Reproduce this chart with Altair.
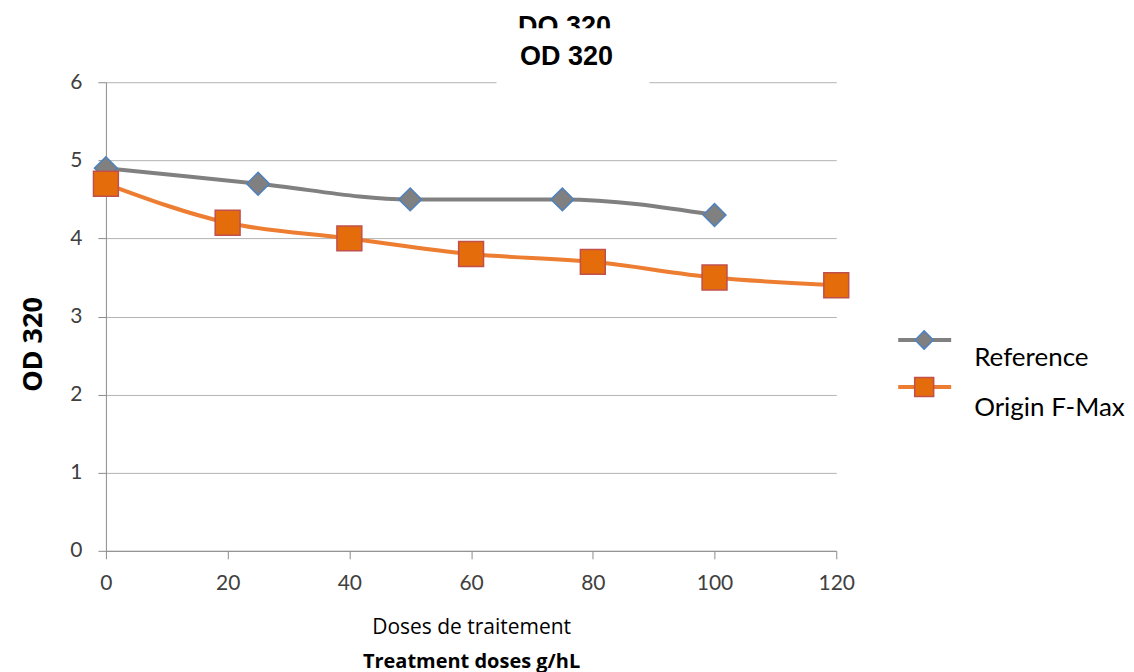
import altair as alt
import pandas as pd

series_names = ["Reference", "Origin F-Max"]
ref_x = [0, 25, 50, 75, 100]
ref_y = [4.9, 4.7, 4.5, 4.5, 4.3]
ofm_x = [0, 20, 40, 60, 80, 100, 120]
ofm_y = [4.7, 4.2, 4.0, 3.8, 3.7, 3.5, 3.4]
x_ticks = [0, 20, 40, 60, 80, 100, 120]
y_ticks = [0, 1, 2, 3, 4, 5, 6]

ref_df = pd.DataFrame({"dose": ref_x, "od": ref_y, "series": series_names[0]})
ofm_df = pd.DataFrame({"dose": ofm_x, "od": ofm_y, "series": series_names[1]})

W, H = 731, 469
FONT = "Lato"
GREY = "#808080"
ORANGE = "#ED7D31"

xs = alt.Scale(domain=[0, 120], nice=False)
ys = alt.Scale(domain=[0, 6], nice=False)

x_axis = alt.Axis(values=x_ticks, grid=False, tickSize=8, labelPadding=14,
                  labelFontSize=21, labelColor="#404040", labelFont=FONT,
                  labelFlush=False, domainColor="#8c8c8c", tickColor="#8c8c8c",
                  title=None)
y_axis = alt.Axis(values=y_ticks, grid=True, gridColor="#b3b3b3", tickSize=8,
                  labelPadding=16, labelFontSize=21, labelColor="#404040",
                  labelFont=FONT, labelFlush=False, domainColor="#8c8c8c",
                  tickColor="#8c8c8c",
                  title="OD 320", titleFontSize=27, titleFont="Open Sans",
                  titleFontWeight="bold", titleColor="black", titlePadding=22,
                  titleY=262, titleAlign="center", titleBaseline="bottom")

def lines(df, color, shape, fill, stroke, size):
    enc_x = alt.X("dose:Q", scale=xs, axis=x_axis)
    enc_y = alt.Y("od:Q", scale=ys, axis=y_axis)
    ln = alt.Chart(df).mark_line(color=color, strokeWidth=4, interpolate="monotone").encode(x=enc_x, y=enc_y)
    pt = alt.Chart(df).mark_point(shape=shape, filled=True, fill=fill, stroke=stroke,
                                  strokeWidth=1.5, size=size, opacity=1).encode(x=enc_x, y=enc_y)
    return ln, pt

ref_l, ref_p = lines(ref_df, GREY, "diamond", GREY, "#4F81BD", 520)
ofm_l, ofm_p = lines(ofm_df, ORANGE, "square", "#E46C0A", "#C0504D", 620)

one = alt.Data(values=[{"a": 1}])

def txt(s, x, y, size, weight="normal", font=FONT, align="center"):
    return alt.Chart(one).mark_text(text=s, fontSize=size, fontWeight=weight, font=font,
                                    align=align, baseline="middle", color="black").encode(
        x=alt.value(x), y=alt.value(y))

def wrect(x, x2, y, y2):
    return alt.Chart(one).mark_rect(color="white").encode(
        x=alt.value(x), x2=alt.value(x2), y=alt.value(y), y2=alt.value(y2))

deco = [
    txt("DO 320", 459, -55, 27, "bold", "Liberation Sans"),
    wrect(391, 544, -54, 2),
    txt("OD 320", 461, -25, 27, "bold", "Liberation Sans"),
    txt("Doses de traitement", 366, 546, 21, "normal", "Open Sans"),
    wrect(240, 500, 554, 600),
    txt("Treatment doses g/hL", 366, 580, 20, "bold", "Open Sans"),
]

# legend
leg = []
for name, color, shape, fill, stroke, size, yl, yt in [
    (series_names[0], GREY, "diamond", GREY, "#4F81BD", 330, 258, 276),
    (series_names[1], ORANGE, "square", "#E46C0A", "#C0504D", 360, 305, 326),
]:
    leg.append(alt.Chart(one).mark_rule(color=color, strokeWidth=4).encode(
        x=alt.value(793), x2=alt.value(846), y=alt.value(yl)))
    leg.append(alt.Chart(one).mark_point(shape=shape, filled=True, fill=fill, stroke=stroke,
                                         strokeWidth=1.5, size=size, opacity=1).encode(
        x=alt.value(819), y=alt.value(yl)))
    leg.append(txt(name, 869, yt, 26, align="left"))

chart = alt.layer(ref_l, ofm_l, ref_p, ofm_p, *deco, *leg).properties(
    width=W, height=H,
    autosize=alt.AutoSizeParams(type="none"),
    padding={"left": 98, "top": 74, "right": 290, "bottom": 130},
    background="white",
).configure_view(stroke=None)

chart.save("out.html", embed_options={"renderer": "svg", "actions": False})
